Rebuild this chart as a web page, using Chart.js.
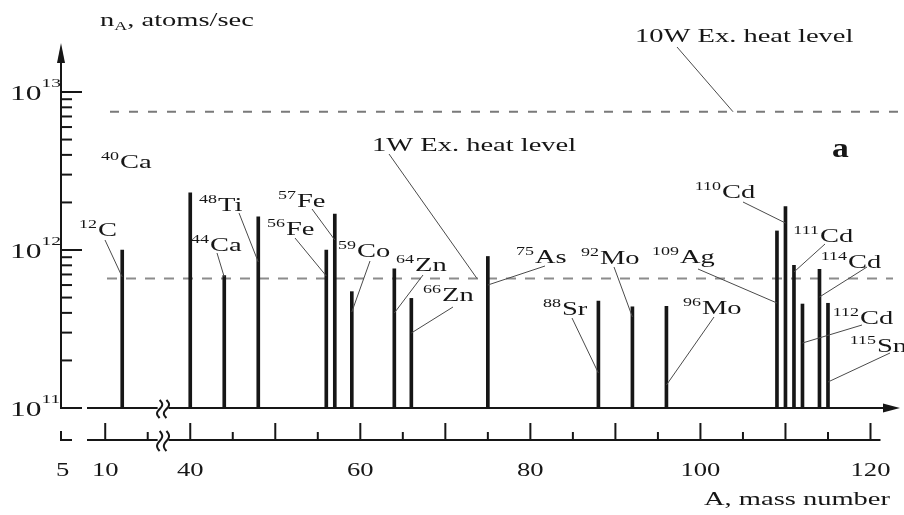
<!DOCTYPE html>
<html>
<head>
<meta charset="utf-8">
<script src="https://cdn.jsdelivr.net/npm/chart.js@4/dist/chart.umd.min.js"></script>
<style>
  html, body { margin: 0; padding: 0; background: #fff; }
  canvas { display: block; }
</style>
</head>
<body>
<canvas id="chart" width="904" height="515"></canvas>
<script>
// Isotope production rates, n_A in atoms/sec, by mass number A
const massNumbers = [12, 40, 44, 48, 56, 57, 59, 64, 66, 75, 88, 92, 96, 109, 110, 111, 112, 114, 115];
const elements    = ['C', 'Ca', 'Ca', 'Ti', 'Fe', 'Fe', 'Co', 'Zn', 'Zn', 'As', 'Sr', 'Mo', 'Mo', 'Ag', 'Cd', 'Cd', 'Cd', 'Cd', 'Sn'];
const rates       = [1.0e12, 2.3e12, 6.9e11, 1.62e12, 1.0e12, 1.69e12, 5.45e11, 7.6e11, 4.94e11, 9.1e11,
                     4.75e11, 4.37e11, 4.4e11, 1.32e12, 1.88e12, 8.0e11, 4.55e11, 7.55e11, 4.6e11];

// Excess heat reference levels (atoms/sec)
const heatLevel1W  = 6.6e11;
const heatLevel10W = 7.5e12;

// Axis ticks
const xTickLabels = [5, 10, 40, 60, 80, 100, 120];
const xMajorTicks = [10, 40, 50, 60, 70, 80, 90, 100, 110, 120];
const xMinorTicks = [15, 45, 55, 65, 75, 85, 95, 105, 115];
const yDecades    = [11, 12, 13];

// The mass axis is broken between 20 and 40: values above the gap are shifted left
const gapStart = 20, gapShift = 20;
function axisPos(a) { return a > gapStart ? a - gapShift : a; }

// Where each isotope's name sits and where its leader line starts / meets the bar
const labelLayout = [
  { tx: 98,  ty: 236, lead: [105, 240, 277] },
  { tx: 120, ty: 168, lead: null },
  { tx: 210, ty: 251, lead: [217, 253, 277] },
  { tx: 218, ty: 211, lead: [239, 213, 262] },
  { tx: 286, ty: 235, lead: [295, 238, 276] },
  { tx: 297, ty: 207, lead: [312, 209, 240] },
  { tx: 357, ty: 257, lead: [370, 261, 312] },
  { tx: 415, ty: 271, lead: [423, 275, 313] },
  { tx: 442, ty: 301, lead: [453, 307, 333] },
  { tx: 535, ty: 263, lead: [545, 266, 285] },
  { tx: 562, ty: 315, lead: [572, 318, 373] },
  { tx: 600, ty: 264, lead: [614, 267, 317] },
  { tx: 702, ty: 314, lead: [714, 317, 385] },
  { tx: 680, ty: 263, lead: [698, 269, 303] },
  { tx: 722, ty: 198, lead: [743, 202, 223] },
  { tx: 820, ty: 242, lead: [825, 244, 272] },
  { tx: 860, ty: 324, lead: [862, 325, 343] },
  { tx: 848, ty: 268, lead: [867, 267, 297] },
  { tx: 877, ty: 352, lead: [890, 353, 382] }
];

const INK = '#161616';
const FONT = '"Liberation Serif", "Times New Roman", serif';
const STRETCH = 1.5;

function text(ctx, s, x, y, size, opts = {}) {
  ctx.save();
  ctx.font = (opts.bold ? 'bold ' : '') + size + 'px ' + FONT;
  const sx = opts.sx || STRETCH;
  const w = ctx.measureText(s).width * sx;
  let x0 = x;
  if (opts.align === 'center') x0 = x - w / 2;
  else if (opts.align === 'right') x0 = x - w;
  ctx.translate(x0, y);
  ctx.scale(sx, 1);
  ctx.fillStyle = opts.color || INK;
  ctx.textAlign = 'left';
  ctx.textBaseline = 'alphabetic';
  ctx.fillText(s, 0, 0);
  ctx.restore();
  return w;
}

function isotope(ctx, mass, sym, x, y) {
  text(ctx, sym, x, y, 19);
  text(ctx, String(mass), x - 1, y - 8, 12, { align: 'right' });
}

function line(ctx, x1, y1, x2, y2) {
  ctx.beginPath();
  ctx.moveTo(x1, y1);
  ctx.lineTo(x2, y2);
  ctx.stroke();
}

function breakMark(ctx, x, yc, h) {
  ctx.beginPath();
  for (let t = 0; t <= 24; t++) {
    const yy = yc - h / 2 + h * t / 24;
    const xx = x + 2.6 * Math.sin(t / 24 * 2 * Math.PI);
    if (t === 0) ctx.moveTo(xx, yy); else ctx.lineTo(xx, yy);
  }
  ctx.stroke();
}

const levelsPlugin = {
  id: 'levels',
  beforeDatasetsDraw(chart) {
    const ctx = chart.ctx, y = chart.scales.y;
    ctx.save();
    ctx.lineWidth = 2;
    ctx.strokeStyle = '#8c8c8c';
    ctx.setLineDash([10, 9]);
    const y1 = y.getPixelForValue(heatLevel1W);
    line(ctx, 107, y1, 893, y1);
    ctx.strokeStyle = '#7a7a7a';
    ctx.setLineDash([9, 10]);
    const y10 = y.getPixelForValue(heatLevel10W);
    line(ctx, 110, y10, 904, y10);
    ctx.restore();
  }
};

const framePlugin = {
  id: 'frame',
  afterDraw(chart) {
    const ctx = chart.ctx, xs = chart.scales.x, ys = chart.scales.y;
    const area = chart.chartArea;
    const x0 = area.left, yb = area.bottom;
    const xLow = yb + 32;
    ctx.save();
    ctx.strokeStyle = INK;
    ctx.fillStyle = INK;
    ctx.lineCap = 'butt';

    // vertical axis with arrow
    ctx.lineWidth = 2;
    line(ctx, x0, yb + 1, x0, 60);
    ctx.beginPath();
    ctx.moveTo(x0, 43); ctx.lineTo(x0 - 4, 63); ctx.lineTo(x0 + 4, 63); ctx.closePath(); ctx.fill();

    // decade ticks and minor ticks
    yDecades.forEach(d => {
      const py = ys.getPixelForValue(Math.pow(10, d));
      line(ctx, x0, py, x0 + 21, py);
      if (d < 13) {
        for (let m = 2; m <= 9; m++) {
          const my = ys.getPixelForValue(m * Math.pow(10, d));
          line(ctx, x0, my, x0 + 11, my);
        }
      }
      const w = text(ctx, '10', 10, py + 8, 21);
      text(ctx, String(d), 10 + w, py - 5, 13);
    });

    // mass axis carrying the bars, with arrow
    const brk1 = xs.getPixelForValue(16.4), brk2 = xs.getPixelForValue(17.2);
    line(ctx, 87, yb, brk1 - 2, yb);
    line(ctx, brk2 + 2, yb, 888, yb);
    ctx.beginPath();
    ctx.moveTo(900, yb); ctx.lineTo(883, yb - 4.5); ctx.lineTo(883, yb + 4.5); ctx.closePath(); ctx.fill();
    breakMark(ctx, brk1, yb + 1, 18);
    breakMark(ctx, brk2, yb + 1, 18);

    // scale axis below
    line(ctx, x0, xLow - 9, x0, xLow);
    line(ctx, x0 - 1, xLow, x0 + 11, xLow);
    line(ctx, 87, xLow, brk1 - 2, xLow);
    line(ctx, brk2 + 2, xLow, xs.getPixelForValue(axisPos(120)) + 10, xLow);
    breakMark(ctx, brk1, xLow + 1, 20);
    breakMark(ctx, brk2, xLow + 1, 20);
    xMajorTicks.forEach(a => {
      const px = xs.getPixelForValue(axisPos(a));
      line(ctx, px, xLow, px, xLow - 17);
    });
    xMinorTicks.forEach(a => {
      const px = xs.getPixelForValue(axisPos(a));
      line(ctx, px, xLow, px, xLow - 8);
    });
    xTickLabels.forEach(a => {
      const px = xs.getPixelForValue(axisPos(a));
      text(ctx, String(a), px, xLow + 36, 19, { align: 'center', sx: 1.4 });
    });

    // axis titles
    text(ctx, 'A, mass number', 890, 505, 19, { align: 'right' });
    let tx = 100;
    tx += text(ctx, 'n', tx, 26, 19);
    tx += text(ctx, 'A', tx, 30, 12);
    text(ctx, ', atoms/sec', tx, 26, 19);

    // isotope names with leader lines
    ctx.lineWidth = 1;
    ctx.strokeStyle = '#4a4a4a';
    massNumbers.forEach((a, i) => {
      const lay = labelLayout[i];
      isotope(ctx, a, elements[i], lay.tx, lay.ty);
      if (lay.lead) {
        const bx = xs.getPixelForValue(axisPos(a));
        line(ctx, lay.lead[0], lay.lead[1], bx, lay.lead[2]);
      }
    });

    // heat level captions
    text(ctx, '1W Ex. heat level', 372, 151, 19);
    line(ctx, 389, 154, 477, ys.getPixelForValue(heatLevel1W));
    text(ctx, '10W Ex. heat level', 635, 42, 19);
    line(ctx, 677, 47, 733, ys.getPixelForValue(heatLevel10W));

    // panel letter
    text(ctx, 'a', 832, 157, 28, { bold: true, sx: 1.2 });
    ctx.restore();
  }
};

new Chart(document.getElementById('chart'), {
  type: 'bar',
  data: {
    datasets: [{
      data: massNumbers.map((a, i) => ({ x: axisPos(a), y: rates[i] })),
      backgroundColor: INK,
      borderWidth: 0,
      barThickness: 3
    }]
  },
  options: {
    responsive: false,
    animation: false,
    layout: { padding: { left: 61, right: 25, top: 92, bottom: 107 } },
    scales: {
      x: { type: 'linear', min: 4.8, max: 101, offset: false, display: false },
      y: { type: 'logarithmic', min: 1e11, max: 1e13, display: false }
    },
    plugins: { legend: { display: false }, tooltip: { enabled: false } }
  },
  plugins: [levelsPlugin, framePlugin]
});
</script>
</body>
</html>
